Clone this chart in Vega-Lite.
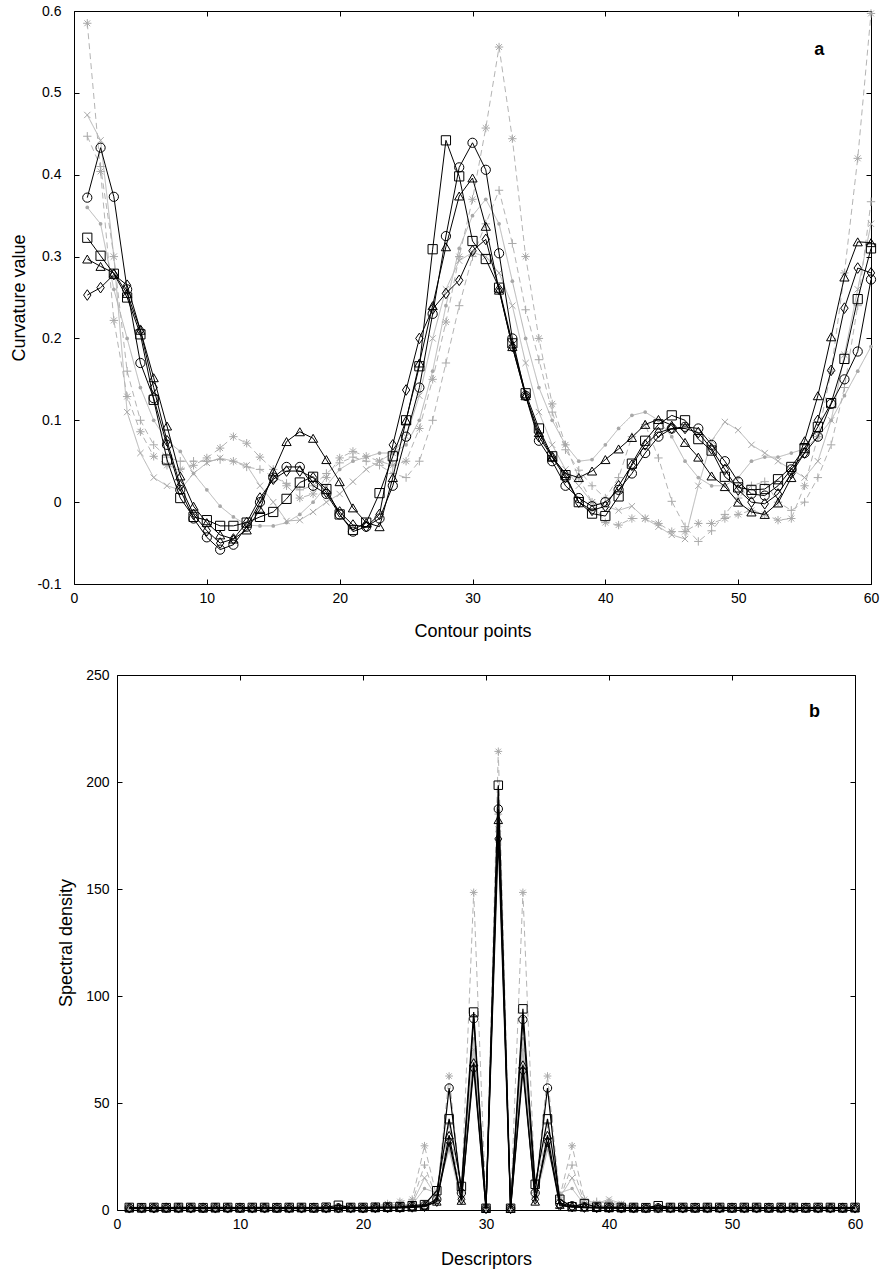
{
  "$schema": "https://vega.github.io/schema/vega-lite/v6.json",
  "padding": {"left": 10, "top": 4, "right": 3, "bottom": 2},
  "spacing": 28,
  "config": {
    "font": "Liberation Sans",
    "view": {"stroke": null},
    "axis": {
      "labelFont": "Liberation Sans", "titleFont": "Liberation Sans",
      "labelColor": "black", "titleColor": "black", "domainColor": "black", "tickColor": "black",
      "grid": false, "labelFontSize": 14, "titleFontSize": 18, "titleFontWeight": "normal",
      "domainWidth": 1, "tickWidth": 1, "tickSize": -5, "labelFlush": false, "labelOverlap": false
    }
  },
  "vconcat": [
    {
      "width": 797, "height": 573,
      "data": {"values": [
        {"x":1,"c":0.372,"sq":0.323,"tri":0.297,"dia":0.253,"gs":0.585,"gp":0.447,"gx":0.473,"gd":0.36},
        {"x":2,"c":0.433,"sq":0.301,"tri":0.288,"dia":0.262,"gs":0.404,"gp":0.41,"gx":0.442,"gd":0.34},
        {"x":3,"c":0.373,"sq":0.279,"tri":0.28,"dia":0.278,"gs":0.222,"gp":0.3,"gx":0.3,"gd":0.26},
        {"x":4,"c":0.26,"sq":0.25,"tri":0.255,"dia":0.265,"gs":0.129,"gp":0.16,"gx":0.11,"gd":0.2},
        {"x":5,"c":0.17,"sq":0.205,"tri":0.21,"dia":0.21,"gs":0.086,"gp":0.1,"gx":0.06,"gd":0.14},
        {"x":6,"c":0.127,"sq":0.125,"tri":0.152,"dia":0.14,"gs":0.056,"gp":0.07,"gx":0.03,"gd":0.1},
        {"x":7,"c":0.07,"sq":0.052,"tri":0.093,"dia":0.075,"gs":0.045,"gp":0.055,"gx":0.02,"gd":0.075},
        {"x":8,"c":0.015,"sq":0.005,"tri":0.032,"dia":0.02,"gs":0.04,"gp":0.05,"gx":0.015,"gd":0.062},
        {"x":9,"c":-0.02,"sq":-0.018,"tri":-0.005,"dia":-0.015,"gs":0.045,"gp":0.05,"gx":0.035,"gd":0.035},
        {"x":10,"c":-0.043,"sq":-0.022,"tri":-0.025,"dia":-0.035,"gs":0.054,"gp":0.05,"gx":0.048,"gd":0.015},
        {"x":11,"c":-0.058,"sq":-0.029,"tri":-0.04,"dia":-0.05,"gs":0.066,"gp":0.052,"gx":0.054,"gd":-0.005},
        {"x":12,"c":-0.052,"sq":-0.029,"tri":-0.045,"dia":-0.045,"gs":0.08,"gp":0.05,"gx":0.05,"gd":-0.018},
        {"x":13,"c":-0.03,"sq":-0.025,"tri":-0.034,"dia":-0.025,"gs":0.072,"gp":0.043,"gx":0.045,"gd":-0.028},
        {"x":14,"c":0.0,"sq":-0.018,"tri":-0.009,"dia":0.005,"gs":0.055,"gp":0.04,"gx":0.02,"gd":-0.029},
        {"x":15,"c":0.03,"sq":-0.012,"tri":0.037,"dia":0.028,"gs":0.04,"gp":0.031,"gx":0.0,"gd":-0.029},
        {"x":16,"c":0.043,"sq":0.004,"tri":0.074,"dia":0.038,"gs":0.02,"gp":0.023,"gx":-0.023,"gd":-0.025},
        {"x":17,"c":0.043,"sq":0.024,"tri":0.086,"dia":0.038,"gs":0.005,"gp":0.015,"gx":-0.022,"gd":-0.015},
        {"x":18,"c":0.02,"sq":0.031,"tri":0.078,"dia":0.03,"gs":0.01,"gp":0.02,"gx":-0.012,"gd":0.0},
        {"x":19,"c":0.01,"sq":0.016,"tri":0.052,"dia":0.012,"gs":0.03,"gp":0.035,"gx":0.0,"gd":0.02},
        {"x":20,"c":-0.015,"sq":-0.015,"tri":0.025,"dia":-0.012,"gs":0.054,"gp":0.048,"gx":0.01,"gd":0.04},
        {"x":21,"c":-0.036,"sq":-0.034,"tri":-0.007,"dia":-0.028,"gs":0.062,"gp":0.055,"gx":0.025,"gd":0.05},
        {"x":22,"c":-0.03,"sq":-0.025,"tri":-0.025,"dia":-0.03,"gs":0.056,"gp":0.05,"gx":0.04,"gd":0.055},
        {"x":23,"c":-0.02,"sq":0.011,"tri":-0.03,"dia":-0.015,"gs":0.05,"gp":0.045,"gx":0.05,"gd":0.06},
        {"x":24,"c":0.02,"sq":0.056,"tri":0.03,"dia":0.07,"gs":0.045,"gp":0.035,"gx":0.06,"gd":0.06},
        {"x":25,"c":0.08,"sq":0.1,"tri":0.1,"dia":0.137,"gs":0.05,"gp":0.03,"gx":0.08,"gd":0.07},
        {"x":26,"c":0.14,"sq":0.166,"tri":0.17,"dia":0.2,"gs":0.09,"gp":0.05,"gx":0.13,"gd":0.1},
        {"x":27,"c":0.23,"sq":0.309,"tri":0.24,"dia":0.236,"gs":0.15,"gp":0.1,"gx":0.2,"gd":0.16},
        {"x":28,"c":0.325,"sq":0.442,"tri":0.312,"dia":0.255,"gs":0.22,"gp":0.17,"gx":0.26,"gd":0.24},
        {"x":29,"c":0.409,"sq":0.398,"tri":0.374,"dia":0.271,"gs":0.3,"gp":0.24,"gx":0.295,"gd":0.31},
        {"x":30,"c":0.439,"sq":0.319,"tri":0.396,"dia":0.307,"gs":0.37,"gp":0.3,"gx":0.305,"gd":0.35},
        {"x":31,"c":0.406,"sq":0.297,"tri":0.337,"dia":0.321,"gs":0.457,"gp":0.34,"gx":0.3,"gd":0.37},
        {"x":32,"c":0.304,"sq":0.262,"tri":0.259,"dia":0.26,"gs":0.556,"gp":0.381,"gx":0.28,"gd":0.34},
        {"x":33,"c":0.2,"sq":0.194,"tri":0.19,"dia":0.19,"gs":0.444,"gp":0.316,"gx":0.24,"gd":0.27},
        {"x":34,"c":0.13,"sq":0.133,"tri":0.13,"dia":0.13,"gs":0.3,"gp":0.235,"gx":0.17,"gd":0.2},
        {"x":35,"c":0.075,"sq":0.09,"tri":0.085,"dia":0.08,"gs":0.2,"gp":0.174,"gx":0.11,"gd":0.14},
        {"x":36,"c":0.05,"sq":0.056,"tri":0.055,"dia":0.055,"gs":0.12,"gp":0.11,"gx":0.07,"gd":0.1},
        {"x":37,"c":0.02,"sq":0.033,"tri":0.035,"dia":0.03,"gs":0.07,"gp":0.064,"gx":0.04,"gd":0.07},
        {"x":38,"c":0.005,"sq":0.0,"tri":0.03,"dia":0.0,"gs":0.03,"gp":0.039,"gx":0.02,"gd":0.05},
        {"x":39,"c":-0.005,"sq":-0.014,"tri":0.038,"dia":-0.01,"gs":0.0,"gp":0.02,"gx":0.0,"gd":0.052},
        {"x":40,"c":0.0,"sq":-0.017,"tri":0.052,"dia":-0.005,"gs":-0.025,"gp":0.005,"gx":-0.005,"gd":0.07},
        {"x":41,"c":0.015,"sq":0.007,"tri":0.065,"dia":0.02,"gs":-0.028,"gp":0.03,"gx":-0.01,"gd":0.09},
        {"x":42,"c":0.035,"sq":0.047,"tri":0.079,"dia":0.045,"gs":-0.02,"gp":0.08,"gx":-0.005,"gd":0.106},
        {"x":43,"c":0.06,"sq":0.075,"tri":0.095,"dia":0.07,"gs":-0.02,"gp":0.095,"gx":-0.02,"gd":0.11},
        {"x":44,"c":0.08,"sq":0.095,"tri":0.101,"dia":0.085,"gs":-0.026,"gp":0.054,"gx":-0.03,"gd":0.1},
        {"x":45,"c":0.09,"sq":0.106,"tri":0.094,"dia":0.09,"gs":-0.036,"gp":0.001,"gx":-0.04,"gd":0.08},
        {"x":46,"c":0.092,"sq":0.1,"tri":0.073,"dia":0.09,"gs":-0.036,"gp":-0.03,"gx":-0.045,"gd":0.05},
        {"x":47,"c":0.09,"sq":0.077,"tri":0.055,"dia":0.085,"gs":-0.026,"gp":-0.048,"gx":0.02,"gd":0.03},
        {"x":48,"c":0.07,"sq":0.063,"tri":0.032,"dia":0.065,"gs":-0.026,"gp":-0.035,"gx":0.075,"gd":0.02},
        {"x":49,"c":0.05,"sq":0.031,"tri":0.019,"dia":0.04,"gs":-0.02,"gp":-0.015,"gx":0.098,"gd":0.02},
        {"x":50,"c":0.025,"sq":0.018,"tri":0.0,"dia":0.015,"gs":-0.015,"gp":0.005,"gx":0.088,"gd":0.03},
        {"x":51,"c":0.01,"sq":0.015,"tri":-0.012,"dia":0.0,"gs":-0.01,"gp":0.02,"gx":0.07,"gd":0.05},
        {"x":52,"c":0.008,"sq":0.016,"tri":-0.015,"dia":-0.002,"gs":-0.015,"gp":0.025,"gx":0.06,"gd":0.055},
        {"x":53,"c":0.02,"sq":0.028,"tri":-0.001,"dia":0.01,"gs":-0.022,"gp":0.0,"gx":0.05,"gd":0.055},
        {"x":54,"c":0.04,"sq":0.043,"tri":0.03,"dia":0.035,"gs":-0.02,"gp":-0.01,"gx":0.04,"gd":0.06},
        {"x":55,"c":0.06,"sq":0.066,"tri":0.075,"dia":0.06,"gs":0.02,"gp":0.0,"gx":0.03,"gd":0.065},
        {"x":56,"c":0.08,"sq":0.092,"tri":0.13,"dia":0.1,"gs":0.08,"gp":0.03,"gx":0.05,"gd":0.08},
        {"x":57,"c":0.12,"sq":0.121,"tri":0.202,"dia":0.161,"gs":0.16,"gp":0.07,"gx":0.1,"gd":0.1},
        {"x":58,"c":0.15,"sq":0.175,"tri":0.275,"dia":0.237,"gs":0.28,"gp":0.14,"gx":0.18,"gd":0.13},
        {"x":59,"c":0.184,"sq":0.248,"tri":0.318,"dia":0.286,"gs":0.42,"gp":0.24,"gx":0.26,"gd":0.16},
        {"x":60,"c":0.272,"sq":0.31,"tri":0.317,"dia":0.28,"gs":0.597,"gp":0.367,"gx":0.34,"gd":0.19}
      ]},
      "resolve": {"axis": {"x": "independent", "y": "independent"}, "scale": {"shape": "independent", "size": "independent"}},
      "layer": [
        {
          "transform": [{"fold": ["gs", "gp", "gx", "gd"], "as": ["s", "v"]}],
          "mark": {"type": "line", "color": "#b4b4b4", "strokeWidth": 1},
          "encoding": {
            "x": {"field": "x", "type": "quantitative", "scale": {"domain": [0, 60], "nice": false, "zero": false},
                  "axis": {"orient": "bottom", "values": [0,10,20,30,40,50,60], "labelPadding": 12, "title": "Contour points", "titlePadding": 17}},
            "y": {"field": "v", "type": "quantitative", "scale": {"domain": [-0.1, 0.6], "nice": false, "zero": false},
                  "axis": {"orient": "left", "values": [-0.1,0,0.1,0.2,0.3,0.4,0.5,0.6], "labelPadding": 18, "title": "Curvature value", "titlePadding": 8,
                           "labelExpr": "datum.value < 0 ? '-' + format(-datum.value, '.1f') : (datum.value == 0 ? '0' : format(datum.value, '.1f'))"}},
            "detail": {"field": "s"},
            "strokeDash": {"field": "s", "type": "nominal", "scale": {"domain": ["gs", "gp", "gx", "gd"], "range": [[6, 4], [6, 4], [1, 0], [1, 0]]}, "legend": null}
          }
        },
        {
          "transform": [{"fold": ["gs", "gp", "gx"], "as": ["s", "v"]}],
          "mark": {"type": "point", "filled": false, "color": "#a8a8a8", "strokeWidth": 1, "size": 70, "opacity": 1},
          "encoding": {
            "x": {"field": "x", "type": "quantitative", "scale": {"domain": [0, 60], "nice": false, "zero": false}, "axis": null},
            "y": {"field": "v", "type": "quantitative", "scale": {"domain": [-0.1, 0.6], "nice": false, "zero": false}, "axis": null},
            "shape": {"field": "s", "type": "nominal", "legend": null, "scale": {"domain": ["gs", "gp", "gx"], "range": [
              "M-1,0L1,0M0,-1L0,1M-0.7,-0.7L0.7,0.7M-0.7,0.7L0.7,-0.7",
              "M-1,0L1,0M0,-1L0,1",
              "M-0.75,-0.75L0.75,0.75M-0.75,0.75L0.75,-0.75"]}}
          }
        },
        {
          "transform": [{"fold": ["gd"], "as": ["s", "v"]}],
          "mark": {"type": "point", "filled": true, "shape": "circle", "color": "#a8a8a8", "size": 14, "opacity": 1},
          "encoding": {
            "x": {"field": "x", "type": "quantitative", "scale": {"domain": [0, 60], "nice": false, "zero": false}, "axis": null},
            "y": {"field": "v", "type": "quantitative", "scale": {"domain": [-0.1, 0.6], "nice": false, "zero": false}, "axis": null}
          }
        },
        {
          "transform": [{"fold": ["c", "sq", "tri", "dia"], "as": ["s", "v"]}],
          "mark": {"type": "line", "color": "black", "strokeWidth": 1},
          "encoding": {
            "x": {"field": "x", "type": "quantitative", "scale": {"domain": [0, 60], "nice": false, "zero": false}, "axis": null},
            "y": {"field": "v", "type": "quantitative", "scale": {"domain": [-0.1, 0.6], "nice": false, "zero": false}, "axis": null},
            "detail": {"field": "s"}
          }
        },
        {
          "transform": [{"fold": ["c", "sq", "tri", "dia"], "as": ["s", "v"]}],
          "mark": {"type": "point", "filled": false, "color": "black", "strokeWidth": 1, "opacity": 1},
          "encoding": {
            "x": {"field": "x", "type": "quantitative", "scale": {"domain": [0, 60], "nice": false, "zero": false},
                  "axis": {"orient": "top", "values": [0,10,20,30,40,50,60], "labels": false, "title": null}},
            "y": {"field": "v", "type": "quantitative", "scale": {"domain": [-0.1, 0.6], "nice": false, "zero": false},
                  "axis": {"orient": "right", "values": [-0.1,0,0.1,0.2,0.3,0.4,0.5,0.6], "labels": false, "title": null}},
            "shape": {"field": "s", "type": "nominal", "legend": null, "scale": {"domain": ["c", "sq", "tri", "dia"], "range": ["circle", "square", "triangle-up", "M0,-1.15L0.8,0L0,1.15L-0.8,0Z"]}},
            "size": {"field": "s", "type": "nominal", "legend": null, "scale": {"domain": ["c", "sq", "tri", "dia"], "range": [85, 85, 110, 80]}}
          }
        },
        {
          "data": {"values": [{"x": 56.1, "v": 0.552, "t": "a"}]},
          "mark": {"type": "text", "fontWeight": "bold", "fontSize": 18, "font": "Liberation Sans", "color": "black"},
          "encoding": {
            "x": {"field": "x", "type": "quantitative", "scale": {"domain": [0, 60], "nice": false, "zero": false}, "axis": null},
            "y": {"field": "v", "type": "quantitative", "scale": {"domain": [-0.1, 0.6], "nice": false, "zero": false}, "axis": null},
            "text": {"field": "t"}
          }
        }
      ]
    },
    {
      "width": 781, "height": 535,
      "data": {"values": [
        {"x":1,"c":1.0,"sq":1.2,"tri":0.8,"dia":0.9,"gs":0.6,"gp":0.7,"gx":0.5,"gd":0.6},
        {"x":2,"c":1.1,"sq":1.1,"tri":0.8,"dia":0.9,"gs":0.7,"gp":0.6,"gx":0.6,"gd":0.5},
        {"x":3,"c":1.0,"sq":1.2,"tri":0.9,"dia":0.9,"gs":0.6,"gp":0.7,"gx":0.5,"gd":0.6},
        {"x":4,"c":1.0,"sq":1.1,"tri":0.8,"dia":1.0,"gs":0.7,"gp":0.6,"gx":0.6,"gd":0.5},
        {"x":5,"c":1.1,"sq":1.2,"tri":0.8,"dia":0.9,"gs":0.6,"gp":0.7,"gx":0.5,"gd":0.6},
        {"x":6,"c":1.0,"sq":1.2,"tri":0.9,"dia":0.9,"gs":0.7,"gp":0.6,"gx":0.6,"gd":0.5},
        {"x":7,"c":1.0,"sq":1.1,"tri":0.8,"dia":1.0,"gs":0.6,"gp":0.7,"gx":0.5,"gd":0.6},
        {"x":8,"c":1.1,"sq":1.2,"tri":0.8,"dia":0.9,"gs":0.7,"gp":0.6,"gx":0.6,"gd":0.5},
        {"x":9,"c":1.0,"sq":1.2,"tri":0.9,"dia":0.9,"gs":0.6,"gp":0.7,"gx":0.5,"gd":0.6},
        {"x":10,"c":1.0,"sq":1.1,"tri":0.8,"dia":1.0,"gs":0.7,"gp":0.6,"gx":0.6,"gd":0.5},
        {"x":11,"c":1.1,"sq":1.2,"tri":0.8,"dia":0.9,"gs":0.6,"gp":0.7,"gx":0.5,"gd":0.6},
        {"x":12,"c":1.0,"sq":1.2,"tri":0.9,"dia":0.9,"gs":0.7,"gp":0.6,"gx":0.6,"gd":0.5},
        {"x":13,"c":1.0,"sq":1.1,"tri":0.8,"dia":1.0,"gs":0.6,"gp":0.7,"gx":0.5,"gd":0.6},
        {"x":14,"c":1.1,"sq":1.2,"tri":0.8,"dia":0.9,"gs":0.7,"gp":0.6,"gx":0.6,"gd":0.5},
        {"x":15,"c":1.0,"sq":1.2,"tri":0.9,"dia":0.9,"gs":0.6,"gp":0.7,"gx":0.5,"gd":0.6},
        {"x":16,"c":1.0,"sq":1.1,"tri":0.8,"dia":1.0,"gs":0.7,"gp":0.6,"gx":0.6,"gd":0.5},
        {"x":17,"c":1.1,"sq":1.3,"tri":0.8,"dia":0.9,"gs":0.7,"gp":0.7,"gx":0.6,"gd":0.6},
        {"x":18,"c":1.0,"sq":2.2,"tri":0.8,"dia":0.9,"gs":0.8,"gp":0.7,"gx":0.6,"gd":0.6},
        {"x":19,"c":1.1,"sq":1.2,"tri":0.9,"dia":0.9,"gs":1.0,"gp":0.8,"gx":0.7,"gd":0.6},
        {"x":20,"c":1.0,"sq":1.2,"tri":0.8,"dia":0.9,"gs":1.2,"gp":1.0,"gx":0.8,"gd":0.7},
        {"x":21,"c":1.1,"sq":1.3,"tri":0.9,"dia":1.0,"gs":1.8,"gp":1.5,"gx":1.2,"gd":0.9},
        {"x":22,"c":1.2,"sq":1.4,"tri":1.0,"dia":1.0,"gs":3.0,"gp":2.0,"gx":2.5,"gd":1.5},
        {"x":23,"c":1.3,"sq":1.5,"tri":1.0,"dia":1.1,"gs":4.0,"gp":3.0,"gx":2.0,"gd":2.0},
        {"x":24,"c":1.6,"sq":2.0,"tri":1.2,"dia":1.3,"gs":5.0,"gp":3.5,"gx":3.0,"gd":2.5},
        {"x":25,"c":2.0,"sq":2.5,"tri":1.8,"dia":1.6,"gs":30,"gp":21,"gx":15,"gd":10},
        {"x":26,"c":5,"sq":9,"tri":4,"dia":4,"gs":6,"gp":5,"gx":6,"gd":8},
        {"x":27,"c":57,"sq":42.6,"tri":35,"dia":32,"gs":62.6,"gp":40,"gx":30,"gd":28},
        {"x":28,"c":8,"sq":11,"tri":4.4,"dia":5,"gs":8,"gp":6,"gx":5,"gd":4},
        {"x":29,"c":89.4,"sq":92.5,"tri":69,"dia":66,"gs":148.4,"gp":90,"gx":75,"gd":80},
        {"x":30,"c":0.8,"sq":0.8,"tri":0.6,"dia":0.6,"gs":1.5,"gp":1,"gx":1,"gd":1},
        {"x":31,"c":187.4,"sq":198.5,"tri":182.3,"dia":173.4,"gs":214.3,"gp":185,"gx":178,"gd":180},
        {"x":32,"c":0.8,"sq":0.8,"tri":0.6,"dia":0.6,"gs":1.5,"gp":1,"gx":1,"gd":1},
        {"x":33,"c":89,"sq":94,"tri":68,"dia":65,"gs":148.4,"gp":90,"gx":75,"gd":80},
        {"x":34,"c":8,"sq":12,"tri":4,"dia":5,"gs":8,"gp":6,"gx":5,"gd":4},
        {"x":35,"c":57,"sq":42.6,"tri":35,"dia":32,"gs":62.6,"gp":40,"gx":30,"gd":28},
        {"x":36,"c":3,"sq":5,"tri":2.5,"dia":2,"gs":6,"gp":5,"gx":6,"gd":8},
        {"x":37,"c":2,"sq":1.5,"tri":1.5,"dia":1.4,"gs":30,"gp":21,"gx":15,"gd":10},
        {"x":38,"c":1.5,"sq":3,"tri":1.2,"dia":1.2,"gs":5,"gp":3.5,"gx":3,"gd":2.5},
        {"x":39,"c":1.2,"sq":1.4,"tri":1,"dia":1,"gs":3,"gp":4,"gx":3,"gd":2},
        {"x":40,"c":1.1,"sq":1.3,"tri":0.9,"dia":1,"gs":4,"gp":3,"gx":5,"gd":2},
        {"x":41,"c":1.0,"sq":1.2,"tri":0.9,"dia":0.9,"gs":2.5,"gp":2,"gx":3,"gd":1.5},
        {"x":42,"c":1.0,"sq":1.2,"tri":0.8,"dia":0.9,"gs":1.5,"gp":1.2,"gx":1.5,"gd":1},
        {"x":43,"c":1.0,"sq":1.1,"tri":0.8,"dia":0.9,"gs":1,"gp":1,"gx":1,"gd":0.8},
        {"x":44,"c":1.0,"sq":2.0,"tri":0.8,"dia":0.9,"gs":0.8,"gp":0.8,"gx":0.7,"gd":0.7},
        {"x":45,"c":1.1,"sq":1.2,"tri":0.8,"dia":0.9,"gs":0.6,"gp":0.7,"gx":0.5,"gd":0.6},
        {"x":46,"c":1.0,"sq":1.2,"tri":0.9,"dia":0.9,"gs":0.7,"gp":0.6,"gx":0.6,"gd":0.5},
        {"x":47,"c":1.0,"sq":1.1,"tri":0.8,"dia":1.0,"gs":0.6,"gp":0.7,"gx":0.5,"gd":0.6},
        {"x":48,"c":1.1,"sq":1.2,"tri":0.8,"dia":0.9,"gs":0.7,"gp":0.6,"gx":0.6,"gd":0.5},
        {"x":49,"c":1.0,"sq":1.2,"tri":0.9,"dia":0.9,"gs":0.6,"gp":0.7,"gx":0.5,"gd":0.6},
        {"x":50,"c":1.0,"sq":1.1,"tri":0.8,"dia":1.0,"gs":0.7,"gp":0.6,"gx":0.6,"gd":0.5},
        {"x":51,"c":1.1,"sq":1.2,"tri":0.8,"dia":0.9,"gs":0.6,"gp":0.7,"gx":0.5,"gd":0.6},
        {"x":52,"c":1.0,"sq":1.2,"tri":0.9,"dia":0.9,"gs":0.7,"gp":0.6,"gx":0.6,"gd":0.5},
        {"x":53,"c":1.0,"sq":1.1,"tri":0.8,"dia":1.0,"gs":0.6,"gp":0.7,"gx":0.5,"gd":0.6},
        {"x":54,"c":1.1,"sq":1.2,"tri":0.8,"dia":0.9,"gs":0.7,"gp":0.6,"gx":0.6,"gd":0.5},
        {"x":55,"c":1.0,"sq":1.2,"tri":0.9,"dia":0.9,"gs":0.6,"gp":0.7,"gx":0.5,"gd":0.6},
        {"x":56,"c":1.0,"sq":1.1,"tri":0.8,"dia":1.0,"gs":0.7,"gp":0.6,"gx":0.6,"gd":0.5},
        {"x":57,"c":1.1,"sq":1.2,"tri":0.8,"dia":0.9,"gs":0.6,"gp":0.7,"gx":0.5,"gd":0.6},
        {"x":58,"c":1.0,"sq":1.2,"tri":0.9,"dia":0.9,"gs":0.7,"gp":0.6,"gx":0.6,"gd":0.5},
        {"x":59,"c":1.0,"sq":1.1,"tri":0.8,"dia":1.0,"gs":0.6,"gp":0.7,"gx":0.5,"gd":0.6},
        {"x":60,"c":1.1,"sq":1.2,"tri":0.8,"dia":0.9,"gs":0.7,"gp":0.6,"gx":0.6,"gd":0.5}
      ]},
      "resolve": {"axis": {"x": "independent", "y": "independent"}, "scale": {"shape": "independent", "size": "independent"}},
      "layer": [
        {
          "transform": [{"fold": ["gs", "gp", "gx", "gd"], "as": ["s", "v"]}],
          "mark": {"type": "line", "color": "#b4b4b4", "strokeWidth": 1},
          "encoding": {
            "x": {"field": "x", "type": "quantitative", "scale": {"domain": [0, 60], "range": [43, 781], "nice": false, "zero": false},
                  "axis": {"orient": "bottom", "values": [0,10,20,30,40,50,60], "labelPadding": 12, "title": "Descriptors", "titlePadding": 19}},
            "y": {"field": "v", "type": "quantitative", "scale": {"domain": [0, 250], "nice": false, "zero": false},
                  "axis": {"orient": "left", "offset": -43, "values": [0,50,100,150,200,250], "labelPadding": 13, "title": "Spectral density", "titlePadding": 10}},
            "detail": {"field": "s"},
            "strokeDash": {"field": "s", "type": "nominal", "scale": {"domain": ["gs", "gp", "gx", "gd"], "range": [[6, 4], [6, 4], [1, 0], [1, 0]]}, "legend": null}
          }
        },
        {
          "transform": [{"fold": ["gs", "gp", "gx"], "as": ["s", "v"]}],
          "mark": {"type": "point", "filled": false, "color": "#a8a8a8", "strokeWidth": 1, "size": 60, "opacity": 1},
          "encoding": {
            "x": {"field": "x", "type": "quantitative", "scale": {"domain": [0, 60], "range": [43, 781], "nice": false, "zero": false}, "axis": null},
            "y": {"field": "v", "type": "quantitative", "scale": {"domain": [0, 250], "nice": false, "zero": false}, "axis": null},
            "shape": {"field": "s", "type": "nominal", "legend": null, "scale": {"domain": ["gs", "gp", "gx"], "range": [
              "M-1,0L1,0M0,-1L0,1M-0.7,-0.7L0.7,0.7M-0.7,0.7L0.7,-0.7",
              "M-1,0L1,0M0,-1L0,1",
              "M-0.75,-0.75L0.75,0.75M-0.75,0.75L0.75,-0.75"]}}
          }
        },
        {
          "transform": [{"fold": ["gd"], "as": ["s", "v"]}],
          "mark": {"type": "point", "filled": true, "shape": "circle", "color": "#a8a8a8", "size": 12, "opacity": 1},
          "encoding": {
            "x": {"field": "x", "type": "quantitative", "scale": {"domain": [0, 60], "range": [43, 781], "nice": false, "zero": false}, "axis": null},
            "y": {"field": "v", "type": "quantitative", "scale": {"domain": [0, 250], "nice": false, "zero": false}, "axis": null}
          }
        },
        {
          "transform": [{"fold": ["c", "sq", "tri", "dia"], "as": ["s", "v"]}],
          "mark": {"type": "line", "color": "black", "strokeWidth": 1.2},
          "encoding": {
            "x": {"field": "x", "type": "quantitative", "scale": {"domain": [0, 60], "range": [43, 781], "nice": false, "zero": false}, "axis": null},
            "y": {"field": "v", "type": "quantitative", "scale": {"domain": [0, 250], "nice": false, "zero": false}, "axis": null},
            "detail": {"field": "s"}
          }
        },
        {
          "transform": [{"fold": ["c", "sq", "tri", "dia"], "as": ["s", "v"]}],
          "mark": {"type": "point", "filled": false, "color": "black", "strokeWidth": 1, "opacity": 1},
          "encoding": {
            "x": {"field": "x", "type": "quantitative", "scale": {"domain": [0, 60], "range": [43, 781], "nice": false, "zero": false},
                  "axis": {"orient": "top", "values": [0,10,20,30,40,50,60], "labels": false, "title": null}},
            "y": {"field": "v", "type": "quantitative", "scale": {"domain": [0, 250], "nice": false, "zero": false},
                  "axis": {"orient": "right", "values": [0,50,100,150,200,250], "labels": false, "title": null}},
            "shape": {"field": "s", "type": "nominal", "legend": null, "scale": {"domain": ["c", "sq", "tri", "dia"], "range": ["circle", "square", "triangle-up", "M0,-1.15L0.8,0L0,1.15L-0.8,0Z"]}},
            "size": {"field": "s", "type": "nominal", "legend": null, "scale": {"domain": ["c", "sq", "tri", "dia"], "range": [70, 75, 90, 65]}}
          }
        },
        {
          "data": {"values": [{"x": 56.7, "v": 232.7, "t": "b"}]},
          "mark": {"type": "text", "fontWeight": "bold", "fontSize": 18, "font": "Liberation Sans", "color": "black"},
          "encoding": {
            "x": {"field": "x", "type": "quantitative", "scale": {"domain": [0, 60], "range": [43, 781], "nice": false, "zero": false}, "axis": null},
            "y": {"field": "v", "type": "quantitative", "scale": {"domain": [0, 250], "nice": false, "zero": false}, "axis": null},
            "text": {"field": "t"}
          }
        }
      ]
    }
  ]
}
